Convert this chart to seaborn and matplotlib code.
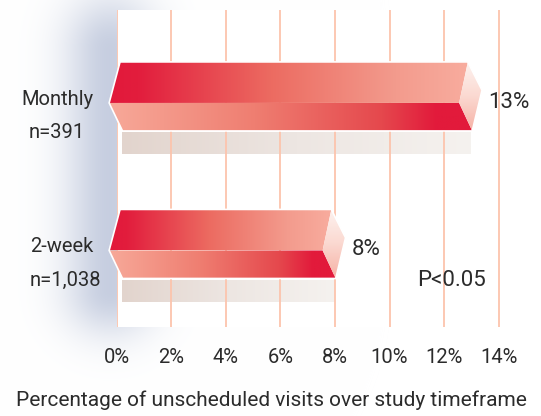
import numpy as np
import pandas as pd
import matplotlib
matplotlib.use("Agg")
import matplotlib.pyplot as plt
from matplotlib.colors import LinearSegmentedColormap
from matplotlib.patches import Polygon
import seaborn as sns

# data
groups = ["Monthly", "2-week"]
group_n = ["n=391", "n=1,038"]
pct_unscheduled = [13, 8]
xticks = [0, 2, 4, 6, 8, 10, 12, 14]
xtick_labels = ["0%", "2%", "4%", "6%", "8%", "10%", "12%", "14%"]
p_text = "P<0.05"
x_title = "Percentage of unscheduled visits over study timeframe"

sns.set_style("white")
plt.rcParams["font.family"] = ["Roboto", "DejaVu Sans"]
TXT = "#2b2b2b"

W, H = 541, 416
fig = plt.figure(figsize=(W / 100, H / 100), dpi=100)

# soft blue-grey glow behind the white panel
bg = fig.add_axes([0, 0, 1, 1], zorder=0)
X, Y = np.meshgrid(np.arange(W), np.arange(H))
hx = np.exp(-((X - 110) / 46.0) ** 2)
hy = np.ones_like(hx, dtype=float)
hy = np.where(Y < 50, np.exp(-((50 - Y) / 55.0) ** 2), hy)
hy = np.where(Y > 290, np.exp(-((Y - 290) / 45.0) ** 2), hy)
inten = (hx * hy)[..., None]
glow = np.array([0.78, 0.81, 0.88])
img = (1 - inten) * 1.0 + inten * glow
bg.imshow(img, aspect="auto", extent=(0, W, H, 0))
bg.set_axis_off()

# main panel
left, right, top, bottom = 116.5, 541, 10, 327
ax = fig.add_axes([left / W, 1 - bottom / H, (right - left) / W, (bottom - top) / H], zorder=1)
ax.set_facecolor("white")

df = pd.DataFrame({"group": groups, "pct": pct_unscheduled})
sns.barplot(data=df, x="pct", y="group", orient="h", width=0.468, ax=ax)

xmax = (right - left) / 27.3
ax.set_xlim(0, xmax)
ax.set_ylim(1.563, -0.586)

top_cmap = LinearSegmentedColormap.from_list(
    "top", [(0, "#e2193b"), (0.08, "#e21d3d"), (0.45, "#ec6b61"), (0.8, "#f39b8d"), (1, "#f8ac9e")])
low_cmap = LinearSegmentedColormap.from_list(
    "low", [(0, "#f7a999"), (0.4, "#ef7e71"), (0.75, "#e5484d"), (0.9, "#e21a3b"), (1, "#e21a3b")])
cap_cmap = LinearSegmentedColormap.from_list("cap", ["#fdf3f0", "#fbd9d1", "#f6b1a5"])
sh_cmap = LinearSegmentedColormap.from_list("sh", ["#e2d4cd", "#ede6e2", "#f5f2ef"])
grad_h = np.linspace(0, 1, 256).reshape(1, -1)
grad_v = np.linspace(0, 1, 256).reshape(-1, 1)


def gradient_poly(verts, cmap, grad, z):
    xs = [v[0] for v in verts]
    ys = [v[1] for v in verts]
    poly = Polygon(verts, closed=True, facecolor="none", edgecolor="none", transform=ax.transData)
    im = ax.imshow(grad, cmap=cmap, aspect="auto", zorder=z,
                   extent=(min(xs), max(xs), max(ys), min(ys)))
    im.set_clip_box(fig.bbox)
    im.set_clip_path(poly)


for bar, val, name, n in zip(ax.patches, pct_unscheduled, groups, group_n):
    bar.set_visible(False)
    v = bar.get_width()
    y0 = bar.get_y()
    h = bar.get_height()
    y1 = y0 + h
    ym = y0 + 0.594 * h
    yp = y0 + 0.41 * h

    top_face = [(0.13, y0), (v - 0.13, y0), (v - 0.45, ym), (-0.27, ym)]
    low_face = [(-0.27, ym), (v - 0.45, ym), (v + 0.03, y1), (0.22, y1)]
    cap = [(v - 0.13, y0), (v + 0.39, yp), (v + 0.03, y1), (v - 0.45, ym)]
    outline = [(0.13, y0), (v - 0.13, y0), (v + 0.39, yp), (v + 0.03, y1), (0.22, y1), (-0.27, ym)]
    shadow = [(0.2, y1 + 0.014), (v - 0.02, y1 + 0.158)]

    ax.imshow(grad_h, cmap=sh_cmap, aspect="auto", zorder=0.2,
              extent=(shadow[0][0], shadow[1][0], shadow[1][1], shadow[0][1]))
    gradient_poly(low_face, low_cmap, grad_h, 2)
    gradient_poly(top_face, top_cmap, grad_h, 2.2)
    gradient_poly(cap, cap_cmap, grad_v, 2.4)
    ax.add_patch(Polygon(outline, closed=True, facecolor="none", edgecolor="white",
                         lw=1.2, zorder=2.6, clip_on=False))

    yc = y0 + h / 2
    ax.text(v + 0.62, yc + 0.04, f"{val}%", fontsize=16, color=TXT,
            va="center", ha="left", zorder=3)
    cx = -2.18 if name == "Monthly" else -2.0
    ax.text(cx, yc + 0.02, name, fontsize=14.5, color=TXT, ha="center", va="center", clip_on=False)
    ax.text(cx + (0 if name == "Monthly" else 0.12), yc + 0.245, n, fontsize=14.5, color=TXT,
            ha="center", va="center", clip_on=False)

ax.text(11.0, 1.25, p_text, fontsize=16, color=TXT, ha="left", va="center", zorder=3)

ax.set_xlim(0, xmax)
ax.set_ylim(1.563, -0.586)
ax.set_xticks(xticks)
ax.set_xticklabels(xtick_labels)
ax.tick_params(axis="x", length=0, pad=15, labelsize=14.5, labelcolor=TXT)
ax.set_yticks([])
ax.set_ylabel("")
ax.set_xlabel("")
ax.grid(axis="x", color="#fcc4ad", lw=1.3)
ax.grid(axis="y", visible=False)
ax.set_axisbelow(True)
for s in ax.spines.values():
    s.set_visible(False)

fig.text(271 / W, 1 - 400 / H, x_title, fontsize=15, color=TXT, ha="center", va="center")

fig.savefig("out.png", dpi=100)
